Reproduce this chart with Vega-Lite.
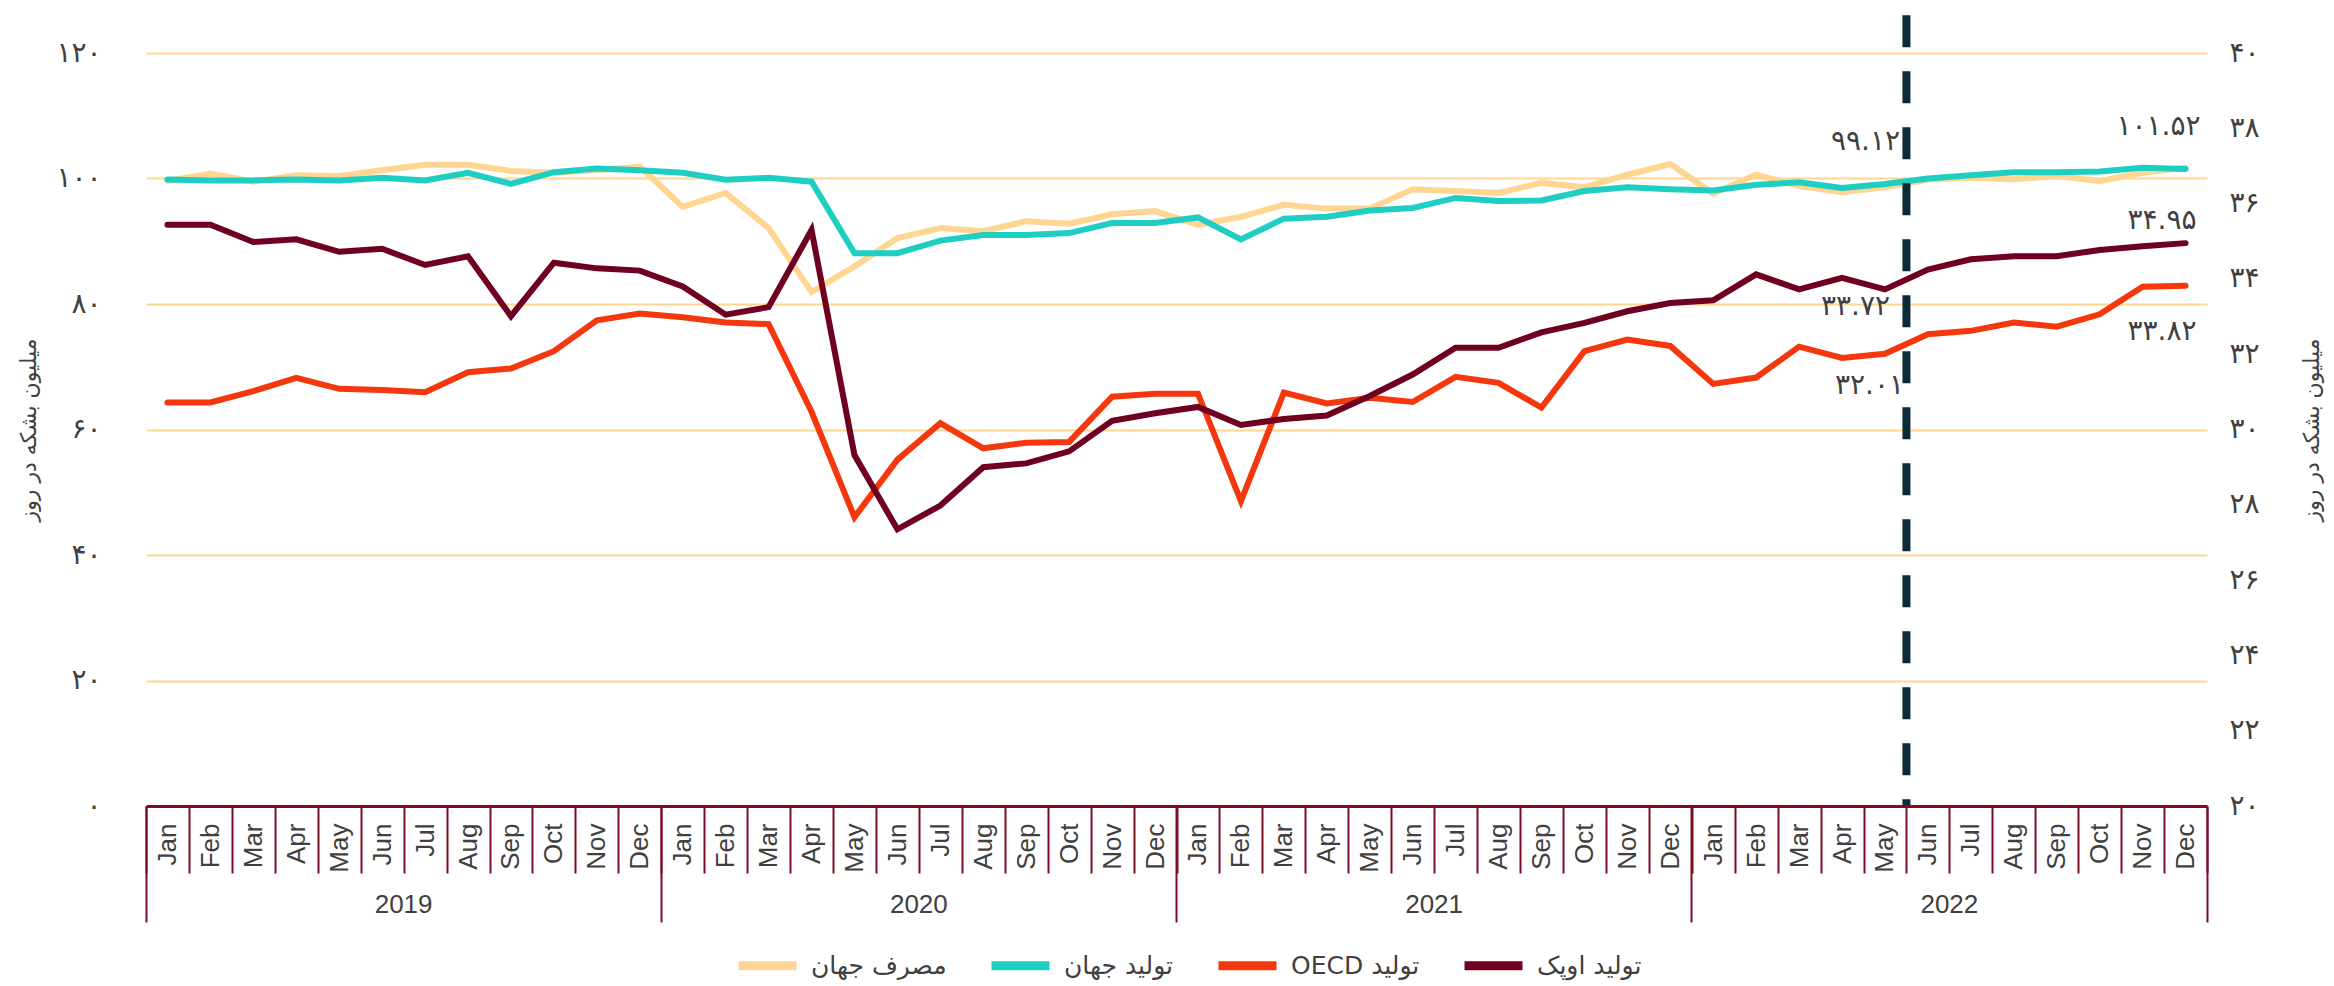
{
"$schema":"https://vega.github.io/schema/vega-lite/v6.json",
"width":2061,"height":753,
"autosize":{"type":"none"},
"padding":{"left":146,"top":53,"right":127,"bottom":180},
"config":{"view":{"stroke":null},"font":"DejaVu Sans",
"locale":{"number":{"decimal":".","thousands":",","grouping":[3],"currency":["",""],"numerals":["۰","۱","۲","۳","۴","۵","۶","۷","۸","۹"]}}},
"datasets":{"d":[
{"m":"2019-01","s":"مصرف جهان","v":99.6},{"m":"2019-02","s":"مصرف جهان","v":100.8},{"m":"2019-03","s":"مصرف جهان","v":99.5},{"m":"2019-04","s":"مصرف جهان","v":100.5},{"m":"2019-05","s":"مصرف جهان","v":100.4},{"m":"2019-06","s":"مصرف جهان","v":101.3},{"m":"2019-07","s":"مصرف جهان","v":102.2},{"m":"2019-08","s":"مصرف جهان","v":102.2},{"m":"2019-09","s":"مصرف جهان","v":101.2},{"m":"2019-10","s":"مصرف جهان","v":100.9},{"m":"2019-11","s":"مصرف جهان","v":101.3},{"m":"2019-12","s":"مصرف جهان","v":101.9},
{"m":"2020-01","s":"مصرف جهان","v":95.5},{"m":"2020-02","s":"مصرف جهان","v":97.7},{"m":"2020-03","s":"مصرف جهان","v":92.1},{"m":"2020-04","s":"مصرف جهان","v":81.9},{"m":"2020-05","s":"مصرف جهان","v":86.0},{"m":"2020-06","s":"مصرف جهان","v":90.5},{"m":"2020-07","s":"مصرف جهان","v":92.1},{"m":"2020-08","s":"مصرف جهان","v":91.6},{"m":"2020-09","s":"مصرف جهان","v":93.2},{"m":"2020-10","s":"مصرف جهان","v":92.8},{"m":"2020-11","s":"مصرف جهان","v":94.3},{"m":"2020-12","s":"مصرف جهان","v":94.8},
{"m":"2021-01","s":"مصرف جهان","v":92.6},{"m":"2021-02","s":"مصرف جهان","v":93.9},{"m":"2021-03","s":"مصرف جهان","v":95.8},{"m":"2021-04","s":"مصرف جهان","v":95.2},{"m":"2021-05","s":"مصرف جهان","v":95.2},{"m":"2021-06","s":"مصرف جهان","v":98.3},{"m":"2021-07","s":"مصرف جهان","v":98.0},{"m":"2021-08","s":"مصرف جهان","v":97.7},{"m":"2021-09","s":"مصرف جهان","v":99.3},{"m":"2021-10","s":"مصرف جهان","v":98.6},{"m":"2021-11","s":"مصرف جهان","v":100.6},{"m":"2021-12","s":"مصرف جهان","v":102.3},
{"m":"2022-01","s":"مصرف جهان","v":97.6},{"m":"2022-02","s":"مصرف جهان","v":100.6},{"m":"2022-03","s":"مصرف جهان","v":98.8},{"m":"2022-04","s":"مصرف جهان","v":97.8},{"m":"2022-05","s":"مصرف جهان","v":98.6},{"m":"2022-06","s":"مصرف جهان","v":99.8},{"m":"2022-07","s":"مصرف جهان","v":100.1},{"m":"2022-08","s":"مصرف جهان","v":99.9},{"m":"2022-09","s":"مصرف جهان","v":100.4},{"m":"2022-10","s":"مصرف جهان","v":99.6},{"m":"2022-11","s":"مصرف جهان","v":100.9},{"m":"2022-12","s":"مصرف جهان","v":101.7},
{"m":"2019-01","s":"تولید جهان","v":99.85},{"m":"2019-02","s":"تولید جهان","v":99.7},{"m":"2019-03","s":"تولید جهان","v":99.7},{"m":"2019-04","s":"تولید جهان","v":99.85},{"m":"2019-05","s":"تولید جهان","v":99.7},{"m":"2019-06","s":"تولید جهان","v":100.1},{"m":"2019-07","s":"تولید جهان","v":99.7},{"m":"2019-08","s":"تولید جهان","v":100.9},{"m":"2019-09","s":"تولید جهان","v":99.15},{"m":"2019-10","s":"تولید جهان","v":101.0},{"m":"2019-11","s":"تولید جهان","v":101.6},{"m":"2019-12","s":"تولید جهان","v":101.3},
{"m":"2020-01","s":"تولید جهان","v":100.9},{"m":"2020-02","s":"تولید جهان","v":99.8},{"m":"2020-03","s":"تولید جهان","v":100.1},{"m":"2020-04","s":"تولید جهان","v":99.5},{"m":"2020-05","s":"تولید جهان","v":88.1},{"m":"2020-06","s":"تولید جهان","v":88.1},{"m":"2020-07","s":"تولید جهان","v":90.1},{"m":"2020-08","s":"تولید جهان","v":91.0},{"m":"2020-09","s":"تولید جهان","v":91.0},{"m":"2020-10","s":"تولید جهان","v":91.3},{"m":"2020-11","s":"تولید جهان","v":92.9},{"m":"2020-12","s":"تولید جهان","v":92.9},
{"m":"2021-01","s":"تولید جهان","v":93.8},{"m":"2021-02","s":"تولید جهان","v":90.3},{"m":"2021-03","s":"تولید جهان","v":93.6},{"m":"2021-04","s":"تولید جهان","v":93.9},{"m":"2021-05","s":"تولید جهان","v":94.9},{"m":"2021-06","s":"تولید جهان","v":95.3},{"m":"2021-07","s":"تولید جهان","v":96.9},{"m":"2021-08","s":"تولید جهان","v":96.4},{"m":"2021-09","s":"تولید جهان","v":96.5},{"m":"2021-10","s":"تولید جهان","v":98.0},{"m":"2021-11","s":"تولید جهان","v":98.6},{"m":"2021-12","s":"تولید جهان","v":98.3},
{"m":"2022-01","s":"تولید جهان","v":98.1},{"m":"2022-02","s":"تولید جهان","v":99.0},{"m":"2022-03","s":"تولید جهان","v":99.4},{"m":"2022-04","s":"تولید جهان","v":98.5},{"m":"2022-05","s":"تولید جهان","v":99.12},{"m":"2022-06","s":"تولید جهان","v":100.0},{"m":"2022-07","s":"تولید جهان","v":100.5},{"m":"2022-08","s":"تولید جهان","v":101.0},{"m":"2022-09","s":"تولید جهان","v":101.0},{"m":"2022-10","s":"تولید جهان","v":101.1},{"m":"2022-11","s":"تولید جهان","v":101.7},{"m":"2022-12","s":"تولید جهان","v":101.52},
{"m":"2019-01","s":"تولید OECD","v":30.72},{"m":"2019-02","s":"تولید OECD","v":30.72},{"m":"2019-03","s":"تولید OECD","v":31.02},{"m":"2019-04","s":"تولید OECD","v":31.37},{"m":"2019-05","s":"تولید OECD","v":31.08},{"m":"2019-06","s":"تولید OECD","v":31.05},{"m":"2019-07","s":"تولید OECD","v":30.99},{"m":"2019-08","s":"تولید OECD","v":31.52},{"m":"2019-09","s":"تولید OECD","v":31.62},{"m":"2019-10","s":"تولید OECD","v":32.08},{"m":"2019-11","s":"تولید OECD","v":32.9},{"m":"2019-12","s":"تولید OECD","v":33.08},
{"m":"2020-01","s":"تولید OECD","v":32.98},{"m":"2020-02","s":"تولید OECD","v":32.84},{"m":"2020-03","s":"تولید OECD","v":32.8},{"m":"2020-04","s":"تولید OECD","v":30.47},{"m":"2020-05","s":"تولید OECD","v":27.67},{"m":"2020-06","s":"تولید OECD","v":29.2},{"m":"2020-07","s":"تولید OECD","v":30.17},{"m":"2020-08","s":"تولید OECD","v":29.5},{"m":"2020-09","s":"تولید OECD","v":29.65},{"m":"2020-10","s":"تولید OECD","v":29.67},{"m":"2020-11","s":"تولید OECD","v":30.87},{"m":"2020-12","s":"تولید OECD","v":30.95},
{"m":"2021-01","s":"تولید OECD","v":30.95},{"m":"2021-02","s":"تولید OECD","v":28.1},{"m":"2021-03","s":"تولید OECD","v":30.98},{"m":"2021-04","s":"تولید OECD","v":30.69},{"m":"2021-05","s":"تولید OECD","v":30.84},{"m":"2021-06","s":"تولید OECD","v":30.73},{"m":"2021-07","s":"تولید OECD","v":31.4},{"m":"2021-08","s":"تولید OECD","v":31.24},{"m":"2021-09","s":"تولید OECD","v":30.58},{"m":"2021-10","s":"تولید OECD","v":32.08},{"m":"2021-11","s":"تولید OECD","v":32.39},{"m":"2021-12","s":"تولید OECD","v":32.22},
{"m":"2022-01","s":"تولید OECD","v":31.21},{"m":"2022-02","s":"تولید OECD","v":31.38},{"m":"2022-03","s":"تولید OECD","v":32.2},{"m":"2022-04","s":"تولید OECD","v":31.9},{"m":"2022-05","s":"تولید OECD","v":32.01},{"m":"2022-06","s":"تولید OECD","v":32.53},{"m":"2022-07","s":"تولید OECD","v":32.62},{"m":"2022-08","s":"تولید OECD","v":32.84},{"m":"2022-09","s":"تولید OECD","v":32.73},{"m":"2022-10","s":"تولید OECD","v":33.06},{"m":"2022-11","s":"تولید OECD","v":33.79},{"m":"2022-12","s":"تولید OECD","v":33.82},
{"m":"2019-01","s":"تولید اوپک","v":35.44},{"m":"2019-02","s":"تولید اوپک","v":35.44},{"m":"2019-03","s":"تولید اوپک","v":34.98},{"m":"2019-04","s":"تولید اوپک","v":35.05},{"m":"2019-05","s":"تولید اوپک","v":34.72},{"m":"2019-06","s":"تولید اوپک","v":34.8},{"m":"2019-07","s":"تولید اوپک","v":34.37},{"m":"2019-08","s":"تولید اوپک","v":34.6},{"m":"2019-09","s":"تولید اوپک","v":33.01},{"m":"2019-10","s":"تولید اوپک","v":34.43},{"m":"2019-11","s":"تولید اوپک","v":34.28},{"m":"2019-12","s":"تولید اوپک","v":34.22},
{"m":"2020-01","s":"تولید اوپک","v":33.8},{"m":"2020-02","s":"تولید اوپک","v":33.05},{"m":"2020-03","s":"تولید اوپک","v":33.25},{"m":"2020-04","s":"تولید اوپک","v":35.3},{"m":"2020-05","s":"تولید اوپک","v":29.32},{"m":"2020-06","s":"تولید اوپک","v":27.35},{"m":"2020-07","s":"تولید اوپک","v":27.98},{"m":"2020-08","s":"تولید اوپک","v":29.0},{"m":"2020-09","s":"تولید اوپک","v":29.1},{"m":"2020-10","s":"تولید اوپک","v":29.42},{"m":"2020-11","s":"تولید اوپک","v":30.23},{"m":"2020-12","s":"تولید اوپک","v":30.43},
{"m":"2021-01","s":"تولید اوپک","v":30.6},{"m":"2021-02","s":"تولید اوپک","v":30.12},{"m":"2021-03","s":"تولید اوپک","v":30.28},{"m":"2021-04","s":"تولید اوپک","v":30.37},{"m":"2021-05","s":"تولید اوپک","v":30.89},{"m":"2021-06","s":"تولید اوپک","v":31.46},{"m":"2021-07","s":"تولید اوپک","v":32.17},{"m":"2021-08","s":"تولید اوپک","v":32.17},{"m":"2021-09","s":"تولید اوپک","v":32.58},{"m":"2021-10","s":"تولید اوپک","v":32.83},{"m":"2021-11","s":"تولید اوپک","v":33.14},{"m":"2021-12","s":"تولید اوپک","v":33.36},
{"m":"2022-01","s":"تولید اوپک","v":33.43},{"m":"2022-02","s":"تولید اوپک","v":34.12},{"m":"2022-03","s":"تولید اوپک","v":33.72},{"m":"2022-04","s":"تولید اوپک","v":34.03},{"m":"2022-05","s":"تولید اوپک","v":33.72},{"m":"2022-06","s":"تولید اوپک","v":34.25},{"m":"2022-07","s":"تولید اوپک","v":34.52},{"m":"2022-08","s":"تولید اوپک","v":34.6},{"m":"2022-09","s":"تولید اوپک","v":34.6},{"m":"2022-10","s":"تولید اوپک","v":34.77},{"m":"2022-11","s":"تولید اوپک","v":34.87},{"m":"2022-12","s":"تولید اوپک","v":34.95}
]},
"data":{"name":"d"},
"resolve":{"scale":{"y":"independent"},"axis":{"x":"independent","y":"independent"}},
"layer":[
{"transform":[{"filter":"datum.s == 'مصرف جهان' || datum.s == 'تولید جهان'"}],
 "mark":{"type":"line","strokeWidth":6,"strokeCap":"round"},
 "encoding":{
  "x":{"field":"m","type":"ordinal","scale":{"type":"band","paddingInner":0,"paddingOuter":0},
   "axis":{"orient":"bottom","title":null,"labelAngle":-90,"labelExpr":"['Jan','Feb','Mar','Apr','May','Jun','Jul','Aug','Sep','Oct','Nov','Dec'][toNumber(substring(datum.value,5,7))-1]","tickBand":"extent","tickSize":67,"tickColor":"#7B0C23","tickWidth":2,"domainColor":"#7B0C23","domainWidth":3,"labelPadding":-50,"labelFont":"Liberation Sans","labelFontSize":26,"labelColor":"#404040","labelOverlap":false,"grid":false,"zindex":2}},
  "y":{"field":"v","type":"quantitative","scale":{"domain":[0,120],"nice":false,"zero":false},
   "axis":{"orient":"left","values":[0,20,40,60,80,100,120],"grid":true,"gridColor":"#FFD592","gridWidth":2,"gridOpacity":{"condition":{"test":"datum.value === 0","value":0},"value":1},"ticks":false,"domain":false,"labelPadding":45,"labelFontSize":28,"labelColor":"#404040","labelFont":"DejaVu Sans","title":"میلیون بشکه در روز","titleFont":"DejaVu Sans","titleFontSize":22,"titleFontWeight":"normal","titleColor":"#404040","titlePadding":15,"titleAngle":-90}},
  "color":{"field":"s","type":"nominal","scale":{"domain":["مصرف جهان","تولید جهان","تولید OECD","تولید اوپک"],"range":["#FFD592","#1FCEC3","#F5370D","#6F001F"]},
   "legend":{"title":null,"orient":"none","legendX":588,"legendY":879,"direction":"horizontal","symbolType":"stroke","symbolStrokeWidth":9,"symbolSize":3364,"labelFont":"DejaVu Sans","labelFontSize":25,"labelColor":"#404040","labelOffset":10,"columnPadding":26,"labelExpr":"datum.label == 'تولید OECD' ? '\u202b' + datum.label + '\u202c' : datum.label"}}
 }},
{"transform":[{"filter":"datum.s == 'تولید OECD' || datum.s == 'تولید اوپک'"}],
 "mark":{"type":"line","strokeWidth":6,"strokeCap":"round"},
 "encoding":{
  "x":{"field":"m","type":"ordinal","scale":{"type":"band","paddingInner":0,"paddingOuter":0},
   "axis":{"orient":"bottom","title":null,"values":["2019-07","2020-07","2021-07","2022-07"],"labelExpr":"substring(datum.value,0,4)","ticks":false,"domain":false,"grid":false,"labelAngle":0,"labelOffset":-21.5,"labelPadding":98,"labelBaseline":"middle","labelFont":"Liberation Sans","labelFontSize":26,"labelColor":"#404040"}},
  "y":{"field":"v","type":"quantitative","scale":{"domain":[20,40],"nice":false,"zero":false},
   "axis":{"orient":"right","values":[20,22,24,26,28,30,32,34,36,38,40],"grid":false,"ticks":false,"domain":false,"labelPadding":22,"labelFontSize":28,"labelColor":"#404040","labelFont":"DejaVu Sans","title":"میلیون بشکه در روز","titleFont":"DejaVu Sans","titleFontSize":22,"titleFontWeight":"normal","titleColor":"#404040","titlePadding":64,"titleAngle":-90}},
  "color":{"field":"s","type":"nominal","scale":{"domain":["مصرف جهان","تولید جهان","تولید OECD","تولید اوپک"],"range":["#FFD592","#1FCEC3","#F5370D","#6F001F"]},
   "legend":{"title":null,"orient":"none","legendX":588,"legendY":879,"direction":"horizontal","symbolType":"stroke","symbolStrokeWidth":9,"symbolSize":3364,"labelFont":"DejaVu Sans","labelFontSize":25,"labelColor":"#404040","labelOffset":10,"columnPadding":26,"labelExpr":"datum.label == 'تولید OECD' ? '\u202b' + datum.label + '\u202c' : datum.label"}}
 }},
{"transform":[{"filter":"datum.m == '2022-06' && datum.s == 'تولید جهان'"}],
 "mark":{"type":"rule","strokeWidth":8,"strokeDash":[32,24],"color":"#0B2B37"},
 "encoding":{
  "x":{"field":"m","type":"ordinal","bandPosition":0,"scale":{"type":"band","paddingInner":0,"paddingOuter":0},
   "axis":{"orient":"bottom","title":null,"values":["2019-01","2020-01","2021-01","2022-01"],"bandPosition":0,"labels":false,"domain":false,"grid":false,"ticks":true,"tickSize":116,"tickColor":"#7B0C23","tickWidth":2}},
  "y":{"datum":126,"type":"quantitative","scale":{"domain":[0,120],"nice":false,"zero":false},"axis":null},
  "y2":{"datum":0}
 }},
{"transform":[{"filter":"datum.s == 'تولید جهان' && (datum.m == '2022-05' || datum.m == '2022-12')"}],
 "mark":{"type":"text","align":"right","baseline":"middle","dx":15,"dy":-42,"fontSize":28,"font":"DejaVu Sans","color":"#404040"},
 "encoding":{
  "x":{"field":"m","type":"ordinal","scale":{"type":"band","paddingInner":0,"paddingOuter":0},
   "axis":{"orient":"bottom","title":null,"values":["2022-12"],"bandPosition":1,"labels":false,"domain":false,"grid":false,"ticks":true,"tickSize":116,"tickColor":"#7B0C23","tickWidth":2}},
  "y":{"field":"v","type":"quantitative","scale":{"domain":[0,120],"nice":false,"zero":false},"axis":null},
  "text":{"field":"v","type":"quantitative","format":".2f"}
 }},
{"transform":[{"filter":"datum.s == 'تولید اوپک' && datum.m == '2022-12'"}],
 "mark":{"type":"text","align":"right","baseline":"middle","dx":11,"dy":-22,"fontSize":28,"font":"DejaVu Sans","color":"#404040"},
 "encoding":{
  "x":{"field":"m","type":"ordinal","scale":{"type":"band","paddingInner":0,"paddingOuter":0},"axis":null},
  "y":{"field":"v","type":"quantitative","scale":{"domain":[20,40],"nice":false,"zero":false},"axis":null},
  "text":{"field":"v","type":"quantitative","format":".2f"}
 }},
{"transform":[{"filter":"datum.s == 'تولید اوپک' && datum.m == '2022-05'"}],
 "mark":{"type":"text","align":"right","baseline":"middle","dx":5,"dy":18,"fontSize":28,"font":"DejaVu Sans","color":"#404040"},
 "encoding":{
  "x":{"field":"m","type":"ordinal","scale":{"type":"band","paddingInner":0,"paddingOuter":0},"axis":null},
  "y":{"field":"v","type":"quantitative","scale":{"domain":[20,40],"nice":false,"zero":false},"axis":null},
  "text":{"field":"v","type":"quantitative","format":".2f"}
 }},
{"transform":[{"filter":"datum.s == 'تولید OECD' && datum.m == '2022-05'"}],
 "mark":{"type":"text","align":"right","baseline":"middle","dx":19,"dy":32,"fontSize":28,"font":"DejaVu Sans","color":"#404040"},
 "encoding":{
  "x":{"field":"m","type":"ordinal","scale":{"type":"band","paddingInner":0,"paddingOuter":0},"axis":null},
  "y":{"field":"v","type":"quantitative","scale":{"domain":[20,40],"nice":false,"zero":false},"axis":null},
  "text":{"field":"v","type":"quantitative","format":".2f"}
 }},
{"transform":[{"filter":"datum.s == 'تولید OECD' && datum.m == '2022-12'"}],
 "mark":{"type":"text","align":"right","baseline":"middle","dx":11,"dy":46,"fontSize":28,"font":"DejaVu Sans","color":"#404040"},
 "encoding":{
  "x":{"field":"m","type":"ordinal","scale":{"type":"band","paddingInner":0,"paddingOuter":0},"axis":null},
  "y":{"field":"v","type":"quantitative","scale":{"domain":[20,40],"nice":false,"zero":false},"axis":null},
  "text":{"field":"v","type":"quantitative","format":".2f"}
 }}
]
}
